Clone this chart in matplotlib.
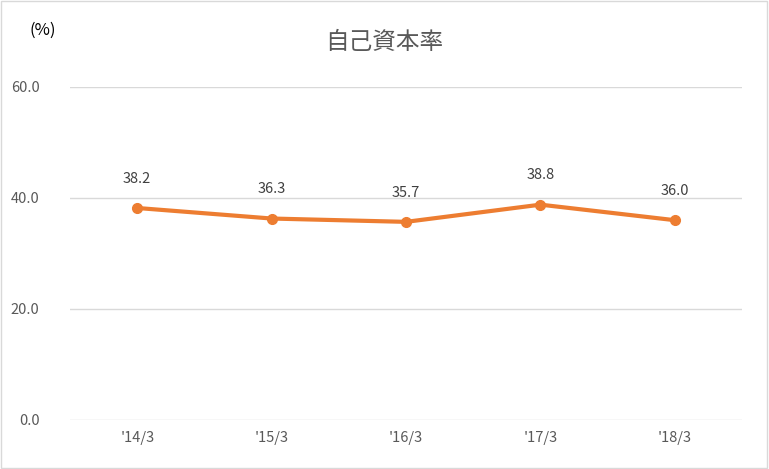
import matplotlib
matplotlib.use("Agg")
import matplotlib.pyplot as plt

categories = ["'14/3", "'15/3", "'16/3", "'17/3", "'18/3"]
values = [38.2, 36.3, 35.7, 38.8, 36.0]
yticks = [0.0, 20.0, 40.0, 60.0]

plt.rcParams['font.family'] = ['Noto Sans CJK JP', 'DejaVu Sans']
fig = plt.figure(figsize=(7.69, 4.69), dpi=100)
ax = fig.add_axes([0.091, 0.1045, 0.874, 0.71])
x = range(len(categories))
ax.plot(x, values, color='#ED7D31', lw=3, marker='o', ms=7, zorder=3)
for i, v in zip(x, values):
    ax.annotate(f"{v:.1f}", (i, v), xytext=(0, 16), textcoords='offset points',
                ha='center', va='bottom', fontsize=10.5, color='#404040')
ax.set_xlim(-0.5, 4.5)
ax.set_ylim(0, 60)
ax.set_yticks(yticks)
ax.set_yticklabels([f"{t:.1f}" for t in yticks])
ax.set_xticks(list(x))
ax.set_xticklabels(categories)
ax.tick_params(length=0, labelsize=10.5, labelcolor='#595959')
ax.tick_params(axis='y', pad=22)
ax.tick_params(axis='x', pad=8)
ax.grid(axis='y', color='#D9D9D9', lw=1)
ax.set_axisbelow(True)
for s in ax.spines.values():
    s.set_visible(False)
fig.text(0.5, 0.91, "自己資本率", ha='center', va='center', fontsize=17, color='#595959')
fig.text(0.055, 0.935, "(%)", ha='center', va='center', fontsize=12, color='#000000')
fig.patches.append(plt.Rectangle((0.001, 0.002), 0.997, 0.996, transform=fig.transFigure,
                                 fill=False, ec='#D9D9D9', lw=1))
fig.savefig("out.png", dpi=100)
